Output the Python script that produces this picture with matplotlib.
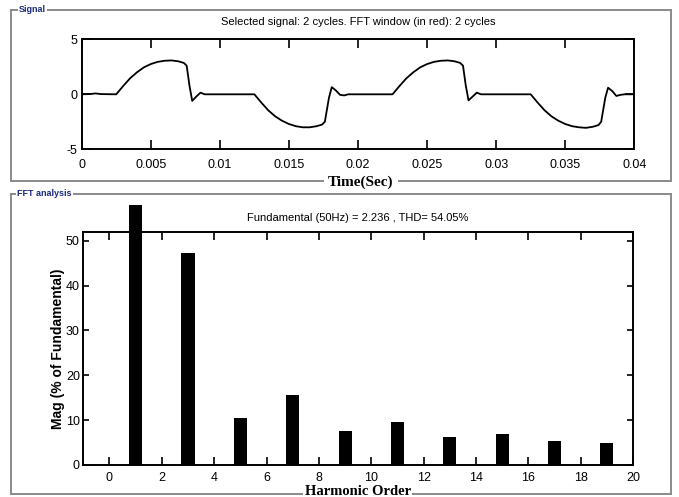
import numpy as np
import matplotlib
matplotlib.use('Agg')
import matplotlib.pyplot as plt
from matplotlib.transforms import Bbox, TransformedBbox

# Sampled current waveform, two 50 Hz cycles (s, A)
t_sig = [0.0, 0.0006, 0.0010, 0.0014, 0.0025, 0.0030, 0.0035, 0.0040, 0.0045,
         0.0050, 0.0055, 0.0060, 0.0065, 0.0070, 0.0074, 0.0076, 0.0078,
         0.0080, 0.0083, 0.0086, 0.0089, 0.0125, 0.0130, 0.0135, 0.0140,
         0.0145, 0.0150, 0.0155, 0.0160, 0.0165, 0.0170, 0.0174, 0.0176,
         0.0179, 0.0181, 0.0184, 0.0187, 0.0190, 0.0193,
         0.0225, 0.0230, 0.0235, 0.0240, 0.0245, 0.0250, 0.0255, 0.0260,
         0.0265, 0.0270, 0.0274, 0.0276, 0.0278, 0.0280, 0.0283, 0.0286,
         0.0289, 0.0325, 0.0330, 0.0335, 0.0340, 0.0345, 0.0350, 0.0355,
         0.0360, 0.0365, 0.0370, 0.0374, 0.0376, 0.0379, 0.0381, 0.0384,
         0.0387, 0.0390, 0.0393, 0.0400]
v_sig = [0.0, 0.02, 0.08, 0.02, 0.0, 0.75, 1.45, 2.0, 2.45,
         2.75, 2.95, 3.05, 3.08, 3.0, 2.85, 2.6, 0.8,
         -0.6, -0.2, 0.15, 0.0, 0.0, -0.75, -1.45, -2.0,
         -2.4, -2.7, -2.9, -3.0, -3.0, -2.9, -2.75, -2.5,
         -0.3, 0.65, 0.35, -0.05, -0.1, 0.0,
         0.0, 0.75, 1.45, 2.0, 2.45, 2.75, 2.95, 3.05,
         3.08, 3.0, 2.85, 2.6, 0.8, -0.55, -0.2, 0.15,
         0.0, 0.0, -0.75, -1.45, -2.0, -2.4, -2.7, -2.9,
         -3.0, -3.05, -2.95, -2.8, -2.5, -0.3, 0.6, 0.3,
         -0.15, -0.05, 0.0, 0.0]

# Harmonic spectrum, % of fundamental
harm_order = list(range(20))
harm_mag = [0.0, 100.0, 0.0, 47.3, 0.0, 10.4, 0.0, 15.6, 0.0, 7.6,
            0.0, 9.65, 0.0, 6.3, 0.0, 6.85, 0.0, 5.35, 0.0, 4.84]

sig_title = 'Selected signal: 2 cycles. FFT window (in red): 2 cycles'
fft_title = 'Fundamental (50Hz) = 2.236 , THD= 54.05%'
sig_ticks = ['0', '0.005', '0.01', '0.015', '0.02', '0.025',
             '0.03', '0.035', '0.04']

plt.rcParams['font.family'] = ['Liberation Sans', 'DejaVu Sans']
plt.rcParams['axes.linewidth'] = 1.4
plt.rcParams['axes.unicode_minus'] = False

fig = plt.figure(figsize=(6.79, 4.97), dpi=100)
fig.patch.set_facecolor('white')

# panel borders drawn in pixel space
bg = fig.add_axes([0, 0, 1, 1], zorder=0)
bg.set_xlim(0, 679)
bg.set_ylim(497, 0)
bg.axis('off')
frame_col = '#8a8a8a'
for top, bot in [(9.5, 181), (194, 494)]:
    bg.plot([11, 671, 671, 11, 11], [top, top, bot, bot, top],
            color=frame_col, lw=1.4, solid_joinstyle='miter')
bg.text(19, 9.5, 'Signal', fontsize=6.5, color='#1c2a80', fontweight='bold',
        va='center', ha='left', bbox=dict(fc='white', ec='none', pad=1))
bg.text(17, 194, 'FFT analysis', fontsize=6.5, color='#1c2a80', fontweight='bold',
        va='center', ha='left', bbox=dict(fc='white', ec='none', pad=1))


def style_axes(ax, tick_len):
    ax.tick_params(direction='in', top=True, right=True, labelsize=9,
                   length=tick_len, width=1.2, colors='black')
    for sp in ax.spines.values():
        sp.set_color('black')


# Signal
ax1 = fig.add_axes([0.1203, 0.6996, 0.8139, 0.2213], zorder=1)
ax1.plot(t_sig, v_sig, color='black', lw=1.3)
ax1.set_xlim(0, 0.04)
ax1.set_ylim(-5, 5)
ax1.set_xticks(np.arange(0, 0.0401, 0.005))
ax1.set_xticklabels(sig_ticks)
ax1.set_yticks([-5, 0, 5])
style_axes(ax1, 6.5)
ax1.tick_params(axis='x', pad=7)
ax1.tick_params(axis='y', pad=3)
ax1.set_title(sig_title, fontsize=8, pad=10)
ax1.set_xlabel('Time(Sec)', family=['Liberation Serif'], fontweight='bold',
               fontsize=11, bbox=dict(fc='white', ec='none', pad=3))
ax1.xaxis.set_label_coords(0.505, -0.30)
ax1.xaxis.label.set_va('center')

# FFT spectrum
ax2 = fig.add_axes([0.1227, 0.0644, 0.8096, 0.4682], zorder=1)
bars = ax2.bar(harm_order, harm_mag, width=0.5, color='black')
# the fundamental runs above the plot box; stop it a little above the top
clip = TransformedBbox(Bbox([[0, 0], [1, 1.117]]), ax2.transAxes)
for b in bars:
    b.set_clip_box(clip)
ax2.set_xlim(-1, 20)
ax2.set_ylim(0, 51.9)
ax2.set_xticks(range(0, 21, 2))
ax2.set_yticks(range(0, 51, 10))
style_axes(ax2, 5.5)
ax2.tick_params(axis='y', length=4.5, pad=2.5)
ax2.tick_params(axis='x', pad=5)
ax2.set_title(fft_title, fontsize=8, pad=8)
ax2.set_ylabel('Mag (% of Fundamental)', family=['Liberation Sans'],
               fontweight='bold', fontsize=10)
ax2.yaxis.set_label_coords(-0.046, 0.5)
ax2.yaxis.label.set_va('center')
ax2.set_xlabel('Harmonic Order', family=['Liberation Serif'], fontweight='bold',
               fontsize=10.5, bbox=dict(fc='white', ec='none', pad=0.8))
ax2.xaxis.set_label_coords(0.499, -0.129)
ax2.xaxis.label.set_va('baseline')

fig.savefig('out.png', dpi=100, facecolor='white')
